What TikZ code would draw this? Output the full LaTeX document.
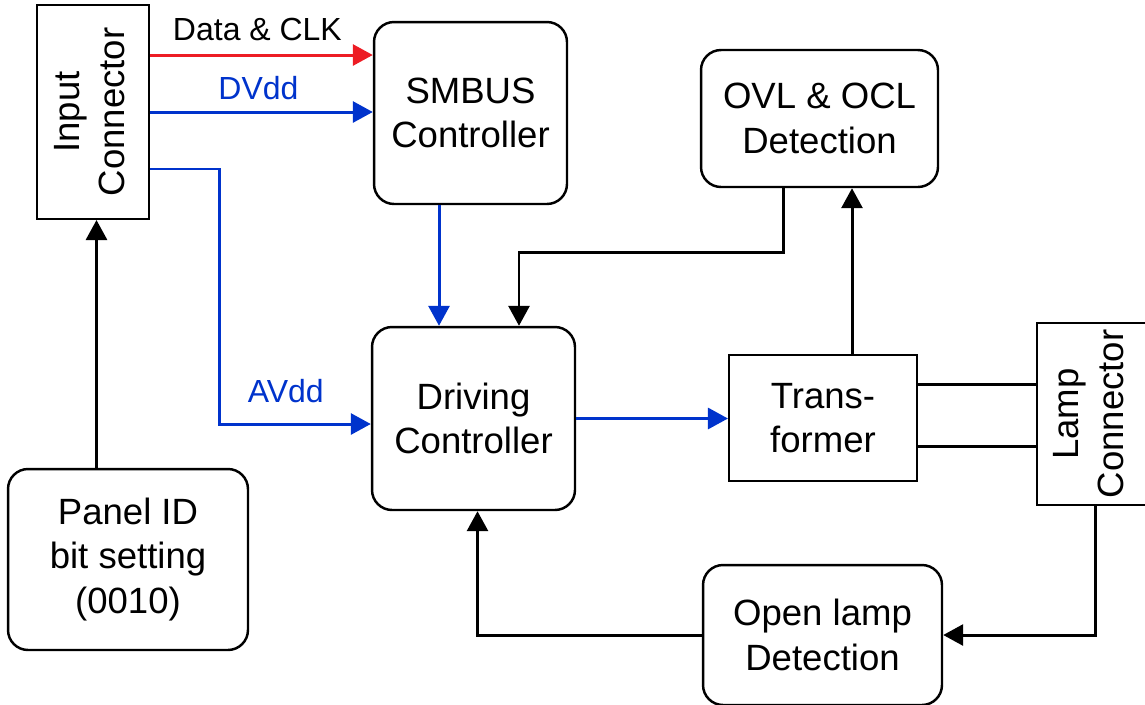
\documentclass[tikz,border=0pt]{standalone}
\usepackage{fontspec}
\setmainfont{Liberation Sans}
\usetikzlibrary{arrows.meta}
\definecolor{sigred}{RGB}{237,28,36}
\definecolor{sigblue}{RGB}{0,51,204}

\begin{document}
\begin{tikzpicture}[x=0.02cm, y=-0.02cm,
    block/.style={draw=black, line width=1.4pt, rounded corners=0.4cm, align=center, inner sep=0pt, font=\fontsize{20.8}{25.5}\selectfont},
    plainbox/.style={draw=black, line width=1.2pt, align=center, inner sep=0pt, font=\fontsize{20.8}{25.5}\selectfont},
    wire/.style={line width=1.7pt},
    tip/.style={-{Triangle[length=0.4cm, width=0.42cm]}},
    lbl/.style={inner sep=0pt, font=\fontsize{18.2}{21}\selectfont}]
    \useasboundingbox (0,0) rectangle (1145,704);

    \node[plainbox, minimum width=2.24cm, minimum height=4.28cm] (inconn) at (93,112)
        {\rotatebox{90}{\begin{tabular}{@{}c@{}}Input\\Connector\end{tabular}}};
    \node[block, minimum width=3.86cm, minimum height=3.64cm] (smbus) at (470.5,113) {SMBUS\\Controller};
    \node[block, minimum width=4.74cm, minimum height=2.74cm] (ovl) at (819.5,118.5) {OVL \& OCL\\Detection};
    \node[block, minimum width=4.06cm, minimum height=3.66cm] (drive) at (473.5,418.5) {Driving\\Controller};
    \node[plainbox, minimum width=3.76cm, minimum height=2.52cm] (trans) at (823,418) {Trans-\\former};
    \node[plainbox, minimum width=2.2cm, minimum height=3.64cm] (lamp) at (1092,414)
        {\rotatebox{90}{\begin{tabular}{@{}c@{}}Lamp\\Connector\end{tabular}}};
    \node[block, minimum width=4.8cm, minimum height=3.62cm] (panel) at (128,559.5) {Panel ID\\bit setting\\(0010)};
    \node[block, minimum width=4.78cm, minimum height=2.8cm] (openl) at (822.5,635) {Open lamp\\Detection};

    \draw[wire, tip, sigred] ([yshift=1.14cm]inconn.east) -- node[lbl, above=7pt, black, xshift=-0.08cm] {Data \& CLK} ([yshift=1.14cm]inconn.east -| smbus.west);
    \draw[wire, tip, sigblue] (inconn.east) -- node[lbl, above=6pt, xshift=-0.06cm] {DVdd} (inconn.east -| smbus.west);
    \draw[wire, tip, sigblue] ([yshift=-1.14cm]inconn.east) -- ++(69,0) |- node[lbl, pos=0.72, above=11pt] {AVdd} ([yshift=-0.11cm]drive.west);
    \draw[wire, tip] ([xshift=0.07cm]inconn.south |- panel.north) -- ([xshift=0.07cm]inconn.south);
    \draw[wire, tip, sigblue] ([xshift=-0.63cm]smbus.south) -- ([xshift=-0.63cm]smbus.south |- drive.north);
    \draw[wire, tip] ([xshift=-0.73cm]ovl.south) -- ++(0,64) -| ([xshift=0.91cm]drive.north);
    \draw[wire, tip] ([xshift=0.58cm]trans.north) -- ([xshift=0.58cm]trans.north |- ovl.south);
    \draw[wire, tip, sigblue] (drive.east) -- (drive.east -| trans.west);
    \draw[wire] ([yshift=0.68cm]trans.east) -- ([yshift=0.68cm]trans.east -| lamp.west);
    \draw[wire] ([yshift=-0.56cm]trans.east) -- ([yshift=-0.56cm]trans.east -| lamp.west);
    \draw[wire, tip] ([xshift=0.06cm]lamp.south) |- (openl.east);
    \draw[wire, tip] (openl.west) -| ([xshift=0.08cm]drive.south);
\end{tikzpicture}
\end{document}
